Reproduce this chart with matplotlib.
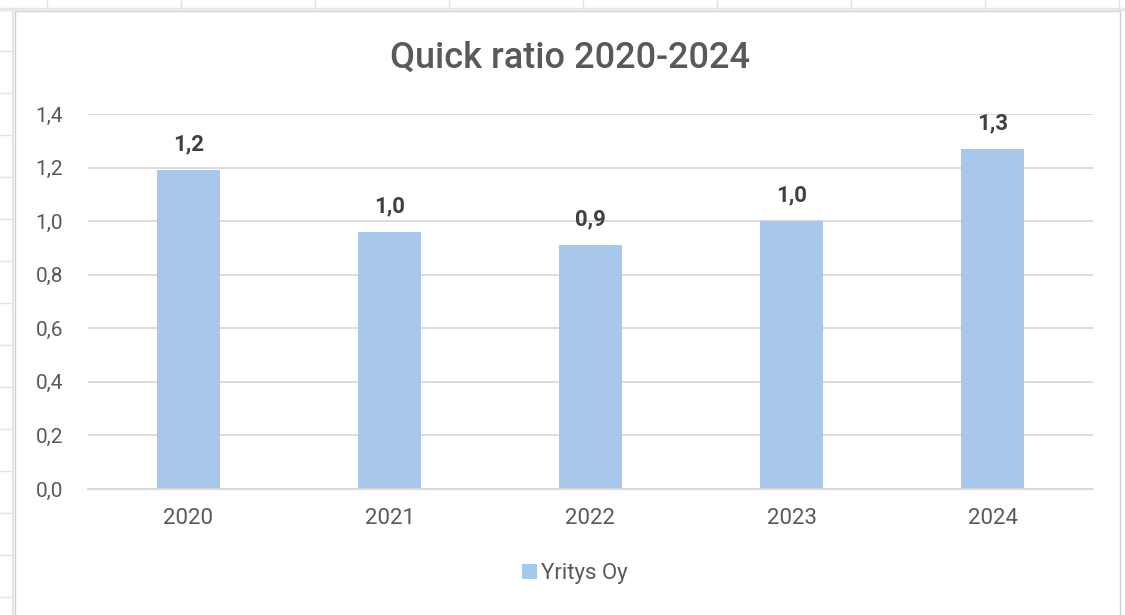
import matplotlib.pyplot as plt
import matplotlib.patches as mpatches
from matplotlib.lines import Line2D

#data
years = ['2020', '2021', '2022', '2023', '2024']
quick_ratio = [1.19, 0.96, 0.91, 1.00, 1.27]
value_labels = ['1,2', '1,0', '0,9', '1,0', '1,3']
y_ticks = [0.0, 0.2, 0.4, 0.6, 0.8, 1.0, 1.2, 1.4]
y_ticklabels = ['0,0', '0,2', '0,4', '0,6', '0,8', '1,0', '1,2', '1,4']
series_name = 'Yritys Oy'
title = 'Quick ratio 2020-2024'

#settings
plt.rcParams['font.family'] = ['Roboto', 'DejaVu Sans']
bar_color = '#A7C8EB'
text_gray = '#595959'
label_gray = '#404040'
grid_gray = '#D9D9D9'

W, H = 1125, 615
fig = plt.figure(figsize=(W / 100, H / 100), dpi=100)
fig.patch.set_facecolor('white')

#excel sheet lines behind the chart
fig.add_artist(Line2D([0, 1], [1 - 9 / H, 1 - 9 / H], color='#E8E8E8', lw=2.5))
for x in range(47, W, 134):
    fig.add_artist(Line2D([x / W, x / W], [1 - 9 / H, 1], color='#E4E4E4', lw=1))
for y in range(51, H, 42):
    fig.add_artist(Line2D([0, 12 / W], [1 - y / H, 1 - y / H], color='#E4E4E4', lw=1))
fig.add_artist(Line2D([13 / W, 13 / W], [0, 1 - 9 / H], color='#E4E4E4', lw=1.5))

#chart area border
fig.add_artist(mpatches.Rectangle((15 / W, -0.05), (1120 - 15) / W, 1.05 - 11 / H,
                                  transform=fig.transFigure, fill=False,
                                  edgecolor='#D0D0D0', lw=1))

ax = fig.add_axes([88 / W, 1 - 489 / H, (1093 - 88) / W, (489 - 114) / H])
x = range(len(years))
bars = ax.bar(x, quick_ratio, width=0.31, color=bar_color, zorder=2, label=series_name)

for xi, v, lab in zip(x, quick_ratio, value_labels):
    ax.annotate(lab, (xi, v), xytext=(0, 10.5), textcoords='offset points',
                ha='center', va='bottom', fontsize=16, fontweight='bold',
                color=label_gray)

ax.set_xlim(-0.5, len(years) - 0.5)
ax.set_ylim(0, 1.4)
ax.set_yticks(y_ticks)
ax.set_yticklabels(y_ticklabels, fontsize=15, color=text_gray)
ax.set_xticks(list(x))
ax.set_xticklabels(years, fontsize=16, color=text_gray)
ax.tick_params(axis='y', length=0, pad=18)
ax.tick_params(axis='x', length=0, pad=14)
ax.yaxis.grid(True, color=grid_gray, lw=1.3, zorder=0)
ax.set_axisbelow(True)
for s in ['top', 'right', 'left']:
    ax.spines[s].set_visible(False)
ax.spines['bottom'].set_color(grid_gray)
ax.spines['bottom'].set_linewidth(1.3)

fig.text(570 / W, 1 - 58 / H, title, ha='center', va='center',
         fontsize=26, fontweight='medium', color=text_gray)

fig.legend(handles=[bars], loc='center', bbox_to_anchor=(575 / W, 1 - 574 / H),
           frameon=False, fontsize=16, handlelength=0.65, handleheight=0.65,
           handletextpad=0.2, labelcolor=text_gray)

fig.savefig('out.png', dpi=100, facecolor='white')
